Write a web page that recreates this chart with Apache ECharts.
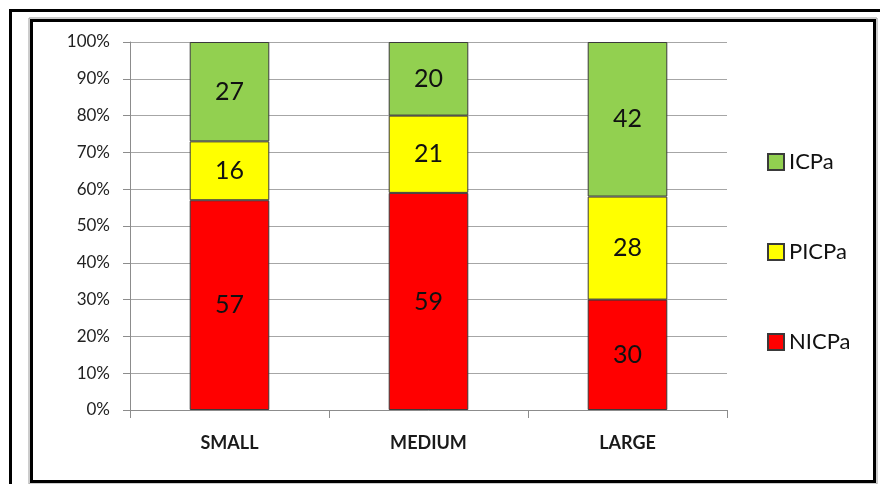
<!DOCTYPE html>
<html>
<head>
<meta charset="utf-8">
<script src="https://cdn.jsdelivr.net/npm/echarts@6/dist/echarts.min.js"></script>
<style>
html,body{margin:0;padding:0;background:#fff;}
#c{width:880px;height:484px;}
</style>
</head>
<body>
<div id="c"></div>
<script>
const categories = ['SMALL', 'MEDIUM', 'LARGE'];
const nicpa = [57, 59, 30];
const picpa = [16, 21, 28];
const icpa = [27, 20, 42];
const yTicks = [0, 10, 20, 30, 40, 50, 60, 70, 80, 90, 100];

const chart = echarts.init(document.getElementById('c'), null, {renderer: 'canvas'});
const font = 'Lato, "Open Sans", sans-serif';
const labelStyle = {show: true, position: 'inside', fontSize: 25, color: '#111', fontFamily: font};
function mk(name, data, color) {
  return {
    name: name, type: 'bar', stack: 'total', data: data, barWidth: '40%',
    itemStyle: {color: color, borderColor: '#3a3a3a', borderWidth: 1},
    label: labelStyle,
    emphasis: {disabled: true}
  };
}
chart.setOption({
  animation: false,
  backgroundColor: '#fff',
  grid: {left: 130, right: 153, top: 42, bottom: 74},
  legend: {
    orient: 'vertical', left: 762, top: 146,
    itemWidth: 16, itemHeight: 16, itemGap: 68, icon: 'rect',
    data: ['ICPa', 'PICPa', 'NICPa'],
    textStyle: {fontSize: 22, color: '#111', fontFamily: font},
    selectedMode: false
  },
  xAxis: {
    type: 'category', data: categories,
    axisLine: {lineStyle: {color: '#8c8c8c', width: 1}},
    axisTick: {show: true, length: 8, lineStyle: {color: '#8c8c8c'}},
    axisLabel: {fontSize: 18, fontWeight: 'bold', color: '#1a1a1a', fontFamily: font, margin: 24}
  },
  yAxis: {
    type: 'value', min: 0, max: 100, interval: 10,
    axisLine: {show: true, lineStyle: {color: '#8c8c8c', width: 1}},
    axisTick: {show: true, length: 7, lineStyle: {color: '#8c8c8c'}},
    splitLine: {lineStyle: {color: '#a6a6a6', width: 1}},
    axisLabel: {fontSize: 17, color: '#222', fontFamily: font, margin: 20,
      formatter: v => yTicks.includes(v) ? v + '%' : ''}
  },
  graphic: [
    {type: 'rect', shape: {x: 10.5, y: 10.5, width: 900, height: 500}, style: {fill: 'none', stroke: '#000', lineWidth: 3}, silent: true},
    {type: 'rect', shape: {x: 29, y: 18, width: 848, height: 466}, style: {fill: 'none', stroke: '#999', lineWidth: 1}, silent: true},
    {type: 'rect', shape: {x: 31.5, y: 20.5, width: 843, height: 461}, style: {fill: 'none', stroke: '#000', lineWidth: 3}, silent: true}
  ],
  series: [mk('NICPa', nicpa, '#ff0000'), mk('PICPa', picpa, '#ffff00'), mk('ICPa', icpa, '#92d050')]
});
</script>
</body>
</html>
